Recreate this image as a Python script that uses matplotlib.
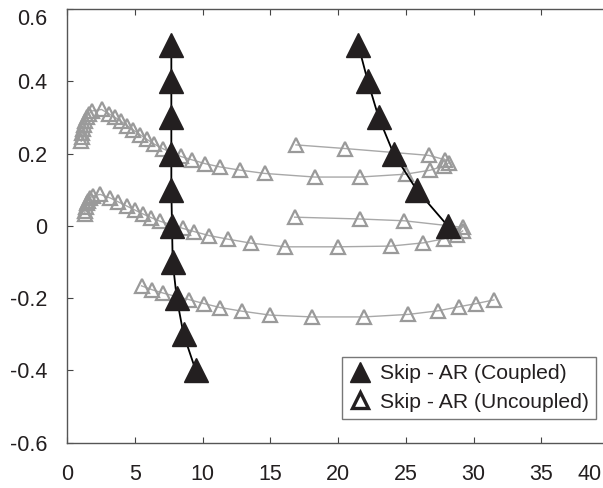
import matplotlib
matplotlib.use("Agg")
import matplotlib.pyplot as plt
from matplotlib.lines import Line2D
from matplotlib.transforms import ScaledTranslation

plt.rcParams["font.family"] = ["Liberation Sans", "DejaVu Sans"]

# Coupled runs (filled triangles)
coupled_a_x = [7.7, 7.7, 7.7, 7.7, 7.7, 7.75, 7.8, 8.1, 8.6, 9.5]
coupled_a_y = [0.5, 0.4, 0.3, 0.2, 0.1, 0.0, -0.1, -0.2, -0.3, -0.4]
coupled_b_x = [21.5, 22.2, 23.0, 24.1, 25.8, 28.1]
coupled_b_y = [0.5, 0.4, 0.3, 0.2, 0.1, 0.0]

# Uncoupled runs (open triangles)
unc_a_x = [1.05, 1.08, 1.12, 1.17, 1.24, 1.33, 1.45, 1.62, 1.85, 2.55,
           3.1, 3.55, 4.0, 4.45, 4.9, 5.4, 5.9, 6.45, 7.05, 7.7, 8.4, 9.2,
           10.2, 11.3, 12.8, 14.6, 18.3, 21.6, 25.0, 26.8, 27.8, 28.2]
unc_a_y = [0.234, 0.245, 0.256, 0.267, 0.278, 0.289, 0.3, 0.31, 0.318, 0.322,
           0.31, 0.3, 0.289, 0.277, 0.265, 0.252, 0.239, 0.226, 0.214, 0.203, 0.192, 0.183,
           0.172, 0.163, 0.154, 0.145, 0.135, 0.135, 0.143, 0.154, 0.165, 0.175]
unc_b_x = [1.3, 1.33, 1.38, 1.45, 1.55, 1.7, 1.9, 2.45,
           3.2, 3.8, 4.4, 5.0, 5.6, 6.2, 6.85, 7.7, 8.55, 9.4,
           10.5, 11.9, 13.6, 16.1, 20.0, 23.9, 26.3, 27.8, 28.8, 29.2]
unc_b_y = [0.032, 0.042, 0.052, 0.062, 0.07, 0.077, 0.083, 0.087,
           0.077, 0.066, 0.055, 0.044, 0.033, 0.023, 0.013, 0.003, -0.007, -0.016,
           -0.027, -0.037, -0.048, -0.058, -0.058, -0.056, -0.047, -0.036, -0.025, -0.014]
unc_c_x = [16.9, 20.5, 26.7, 27.9]
unc_c_y = [0.224, 0.214, 0.195, 0.183]
unc_d_x = [16.8, 21.6, 24.9, 29.2]
unc_d_y = [0.024, 0.019, 0.014, -0.004]
unc_e_x = [5.5, 6.3, 7.1, 8.1, 9.0, 10.1, 11.3, 12.9, 15.0, 18.1, 21.9, 25.2, 27.4, 28.9, 30.2, 31.5]
unc_e_y = [-0.166, -0.177, -0.186, -0.196, -0.204, -0.215, -0.226, -0.236, -0.247, -0.252,
           -0.252, -0.245, -0.235, -0.224, -0.215, -0.205]

x_ticks = [0, 5, 10, 15, 20, 25, 30, 35, 40]
y_ticks = [-0.6, -0.4, -0.2, 0.0, 0.2, 0.4, 0.6]
y_tick_labels = ["-0.6", "-0.4", "-0.2", "0", "0.2", "0.4", "0.6"]

TEXT = "#231f20"
GRAY_EDGE = "#9a9a9a"
GRAY_LINE = "#a8a8a8"

fig = plt.figure(figsize=(6.03, 4.88), dpi=100)
ax = fig.add_axes([67 / 603, 45.3 / 488, 542 / 603, 433.7 / 488])

for xs, ys in [(unc_a_x, unc_a_y), (unc_b_x, unc_b_y), (unc_c_x, unc_c_y),
               (unc_d_x, unc_d_y), (unc_e_x, unc_e_y)]:
    ax.plot(xs, ys, color=GRAY_LINE, lw=1.0, marker="^", ms=9.5,
            mfc="none", mec=GRAY_EDGE, mew=1.6, zorder=2)

for xs, ys in [(coupled_a_x, coupled_a_y), (coupled_b_x, coupled_b_y)]:
    ax.plot(xs, ys, color="black", lw=1.3, marker="^", ms=17.5,
            mfc=TEXT, mec=TEXT, zorder=3)

ax.set_xlim(0, 40)
ax.set_ylim(-0.6, 0.6)
ax.set_xticks(x_ticks)
ax.set_xticklabels([str(t) for t in x_ticks])
ax.set_yticks(y_ticks)
ax.set_yticklabels(y_tick_labels)
ax.tick_params(axis="both", direction="in", length=4.5, width=0.8, color="#444444",
               labelsize=15.5, labelcolor=TEXT, top=True, right=False)
ax.tick_params(axis="x", pad=15)
ax.tick_params(axis="y", pad=14)
for s in ax.spines.values():
    s.set_color("#555555")
    s.set_linewidth(1.0)

# labels nudged to stay inside the picture
ax.get_yticklabels()[-1].set_transform(
    ax.get_yticklabels()[-1].get_transform() + ScaledTranslation(0, -8 / 100, fig.dpi_scale_trans))
ax.get_xticklabels()[-1].set_transform(
    ax.get_xticklabels()[-1].get_transform() + ScaledTranslation(-19 / 100, 0, fig.dpi_scale_trans))

handles = [
    Line2D([], [], ls="none", marker="^", ms=14, mfc=TEXT, mec=TEXT),
    Line2D([], [], ls="none", marker="^", ms=12, mfc="white", mec=TEXT, mew=2.4),
]
leg = ax.legend(handles, ["Skip - AR (Coupled)", "Skip - AR (Uncoupled)"],
                loc="lower left", bbox_to_anchor=(341.7 / 603, (488 - 419) / 488),
                bbox_transform=fig.transFigure, fontsize=15.2, frameon=True, fancybox=False,
                edgecolor="#555555", handlelength=1.0, handletextpad=0.45,
                borderpad=0.35, labelspacing=0.45, borderaxespad=0)
leg.get_frame().set_linewidth(1.0)
for t in leg.get_texts():
    t.set_color(TEXT)

fig.savefig("out.png", dpi=100)
